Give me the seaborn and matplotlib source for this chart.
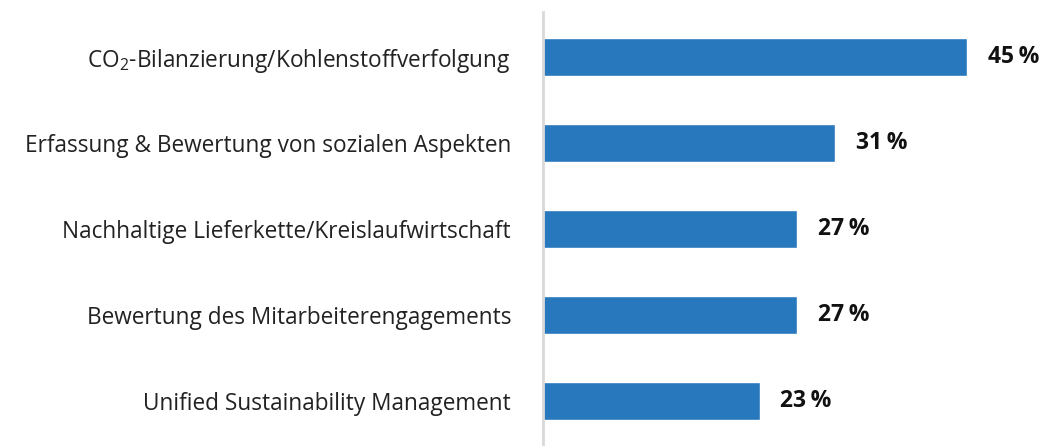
import matplotlib
matplotlib.use('Agg')
import matplotlib.pyplot as plt
import seaborn as sns
import pandas as pd

# Chart data
categories = [
    r'CO$_\mathregular{2}$-Bilanzierung/Kohlenstoffverfolgung',
    'Erfassung & Bewertung von sozialen Aspekten',
    'Nachhaltige Lieferkette/Kreislaufwirtschaft',
    'Bewertung des Mitarbeiterengagements',
    'Unified Sustainability Management',
]
values = [45, 31, 27, 27, 23]
value_labels = ['45\u2009%', '31\u2009%', '27\u2009%', '27\u2009%', '23\u2009%']

df = pd.DataFrame({'category': categories, 'value': values})

sns.set_theme(style='white')
plt.rcParams['font.family'] = ['Open Sans', 'DejaVu Sans']
plt.rcParams['mathtext.fontset'] = 'custom'
plt.rcParams['mathtext.rm'] = 'Open Sans'

fig = plt.figure(figsize=(10.48, 4.46), dpi=100)
ax = fig.add_axes([543 / 1048, 0, 1 - 543 / 1048, 434 / 446])

sns.barplot(data=df, x='value', y='category', color='#2878BE', width=0.44,
            saturation=1, ax=ax)

ax.set_xlim(0, 53.6)
ax.set_ylim(4.523, -0.523)
ax.set_xlabel('')
ax.set_ylabel('')
ax.set_xticks([])
for s in ['top', 'right', 'bottom']:
    ax.spines[s].set_visible(False)
ax.spines['left'].set_color('#d9d9d9')
ax.spines['left'].set_linewidth(2)
ax.tick_params(axis='y', length=0, pad=23, labelsize=16.3, labelcolor='#222222')

for i, (v, lab) in enumerate(zip(values, value_labels)):
    ax.text(v + 2.2, i, lab, va='center', ha='left', fontsize=16.5,
            fontweight='bold', color='#111111')

fig.savefig('out.png', dpi=100)
